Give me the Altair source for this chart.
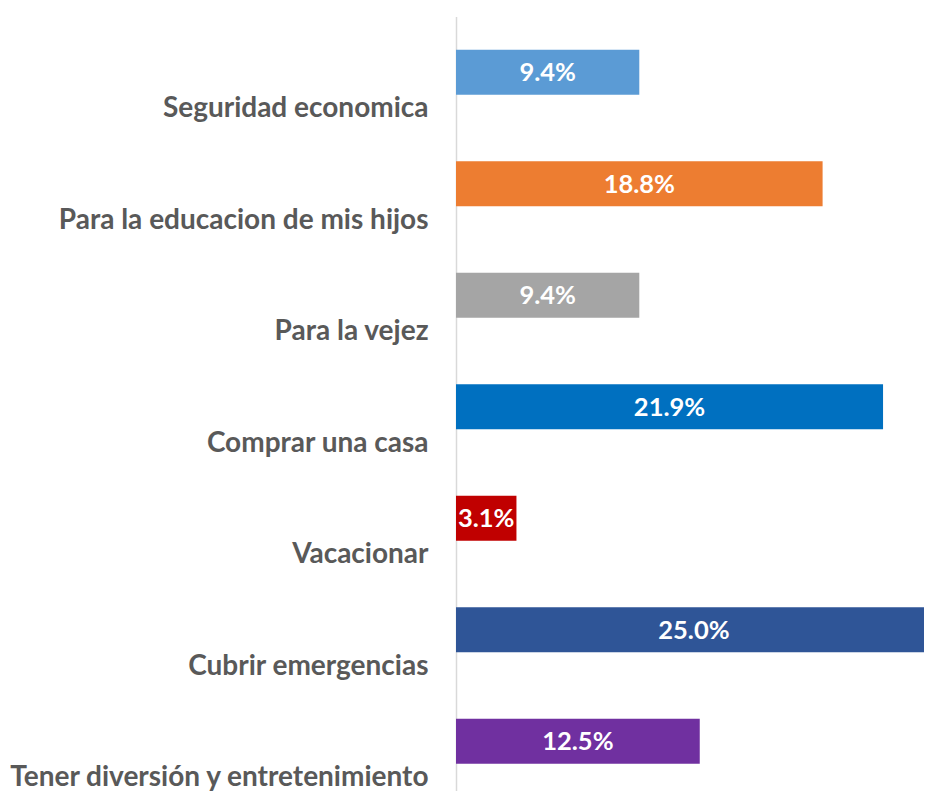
import altair as alt
import pandas as pd

categories = [
    "Seguridad economica",
    "Para la educacion de mis hijos",
    "Para la vejez",
    "Comprar una casa",
    "Vacacionar",
    "Cubrir emergencias",
    "Tener diversión y entretenimiento",
]
values = [9.4, 18.8, 9.4, 21.9, 3.1, 25.0, 12.5]
colors = ["#5B9BD5", "#ED7D31", "#A5A5A5", "#0070C0", "#C00000", "#2F5597", "#7030A0"]

X_MAX = 24.0      # visible part of the value axis
AXIS_MAX = 24.4   # original axis maximum (used to centre clipped labels)

df = pd.DataFrame({"cat": categories, "val": values})
df["label"] = df["val"].map(lambda v: f"{v:.1f}%")

y_enc = alt.Y(
    "cat:N",
    sort=categories,
    scale=alt.Scale(paddingInner=0, paddingOuter=0),
    axis=alt.Axis(
        title=None,
        ticks=False,
        domainColor="#D9D9D9",
        domainWidth=1.5,
        labelColor="#595959",
        labelFont="Lato",
        labelFontWeight="bold",
        labelFontSize=28,
        labelPadding=28,
        labelLimit=600,
        labelOffset=37,
        grid=False,
    ),
)

x_scale = alt.Scale(domain=[0, X_MAX], clamp=True, nice=False, zero=True)

bars = alt.Chart(df).mark_bar(height={"band": 45 / 111.5}).encode(
    y=y_enc,
    x=alt.X("val:Q", scale=x_scale, axis=None),
    color=alt.Color("cat:N", scale=alt.Scale(domain=categories, range=colors), legend=None),
)

texts = alt.Chart(df).transform_calculate(
    mid=f"min(datum.val, {AXIS_MAX}) / 2"
).mark_text(
    color="white", font="Lato", fontWeight="bold", fontSize=25.5, baseline="middle", align="center", dy=1
).encode(
    y=alt.Y("cat:N", sort=categories),
    x=alt.X("mid:Q", scale=x_scale, axis=None),
    text="label:N",
)

chart = alt.layer(bars, texts).properties(
    width=468,
    height=780.5,
    autosize=alt.AutoSizeParams(type="none"),
    padding={"left": 448, "top": 8.5, "right": 0, "bottom": 0},
    background="white",
).configure_view(stroke=None)

chart.save("out.html", embed_options={"renderer": "svg", "actions": False})
